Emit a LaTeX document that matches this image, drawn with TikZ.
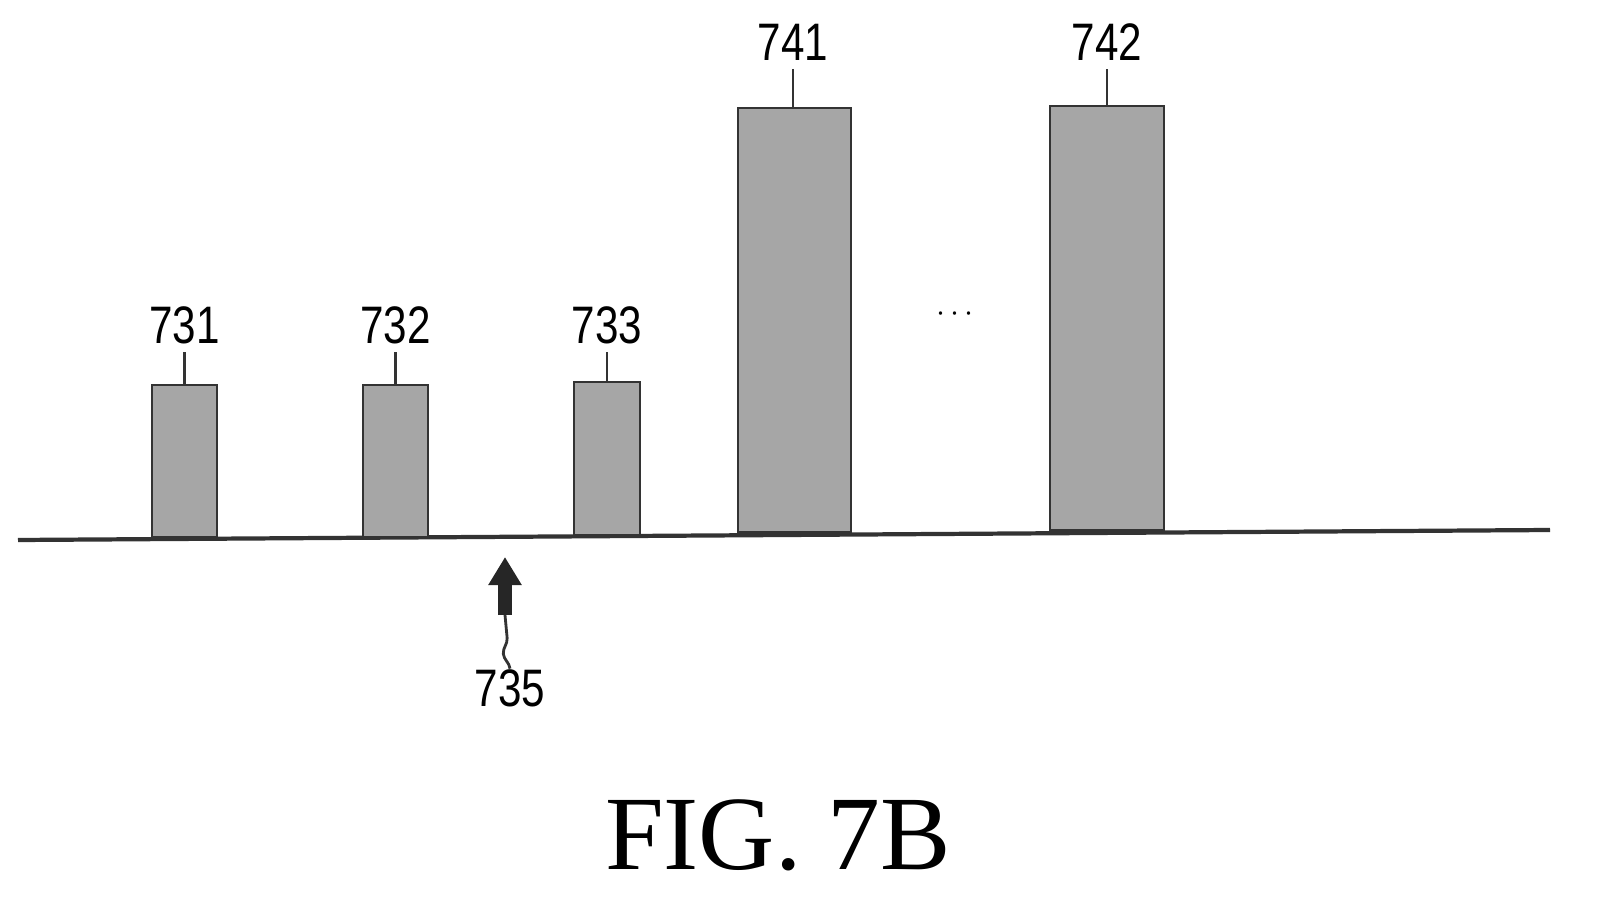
\documentclass[tikz,border=0pt]{standalone}
\usepackage{fontspec}
\setmainfont{Liberation Serif}
\newfontfamily\labelfont{Liberation Sans}
\usetikzlibrary{calc,arrows.meta,decorations.pathmorphing}

\begin{document}
\begin{tikzpicture}[x=0.01cm,y=-0.01cm]

\tikzset{bar/.style={draw=black!80,thick,fill=black!35},
    num/.style={font=\labelfont\fontsize{15}{15}\selectfont,inner sep=0,xscale=0.8},
    lead/.style={draw=black!80,thick}}

\useasboundingbox (0,0) rectangle (1617,915);

% =========================
% ground line
% =========================
\coordinate (gl) at (18,540);
\coordinate (gr) at (1550,530);
\draw[black!80,very thick] (gl) -- (gr);

% =========================
% short bars
% =========================
\foreach \name/\xa/\xb/\top/\bot/\lab in {b731/152/217/385/537/731,
    b732/363/428/385/537/732,b733/574/640/382/535/733}{
  \draw[bar] (\xa,\top) rectangle (\xb,\bot);
  \node[num] (n\lab) at ({(\xa+\xb)/2},325) {\lab};
  \draw[lead] ($(n\lab.south)+(0,8)$) -- ({(\xa+\xb)/2},\top);
}

% =========================
% tall bars
% =========================
\draw[bar] (738,108) rectangle (851,532);
\node[num] (n741) at (793,42) {741};
\draw[lead] ($(n741.south)+(0,8)$) -- (793,108);

\draw[bar] (1050,106) rectangle (1164,530);
\node[num] (n742) at (1107,42) {742};
\draw[lead] ($(n742.south)+(0,8)$) -- (1107,106);

\node[font=\labelfont\small] (dots) at (955,314) {$\cdots$};

% =========================
% arrow 735
% =========================
\node[num] (n735) at (510,688) {735};
\coordinate (tip) at (505,557);
\draw[-{Triangle[length=8pt,width=9pt]},line width=4pt,black!85]
    (505,615) -- (tip);
\draw[lead,decorate,decoration={snake,amplitude=1.5pt,segment length=14pt}]
    (n735.north) -- (505,615);

% =========================
% caption
% =========================
\node[font=\fontsize{30}{30}\selectfont] (fig) at (778,835) {FIG. 7B};

\end{tikzpicture}
\end{document}
